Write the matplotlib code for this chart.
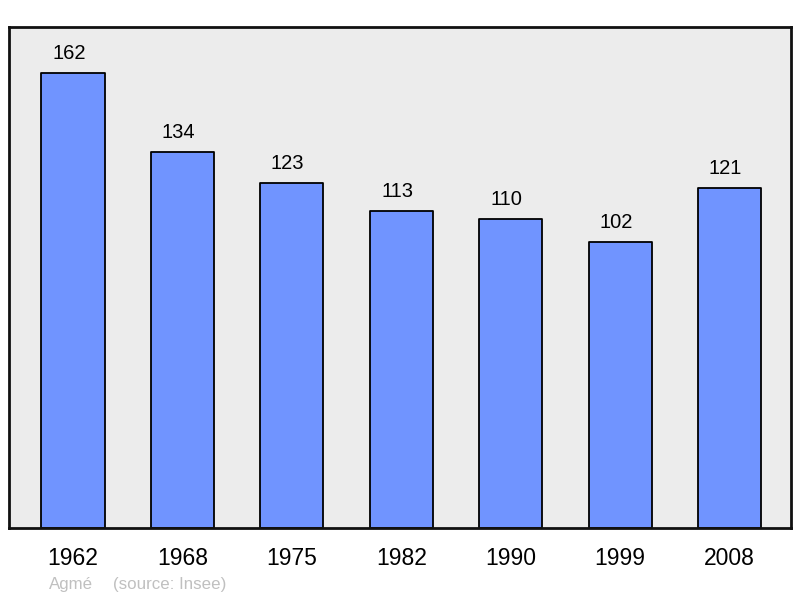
import matplotlib
matplotlib.use("Agg")
import matplotlib.pyplot as plt

years = ["1962", "1968", "1975", "1982", "1990", "1999", "2008"]
population = [162, 134, 123, 113, 110, 102, 121]

plt.rcParams['font.family'] = ['Liberation Sans', 'DejaVu Sans']

fig = plt.figure(figsize=(8, 5.98), dpi=100)
ax = fig.add_axes([9/800, 70/598, 782/800, 501/598])
ax.set_facecolor('#ececec')
x = list(range(len(years)))
ax.bar(x, population, width=0.576, color='#7094ff', edgecolor='black',
       linewidth=1.3, joinstyle='round', zorder=2)
for xi, v in zip(x, population):
    ax.annotate(str(v), (xi, v), xytext=(-3, 10), textcoords='offset points',
                ha='center', va='baseline', fontsize=14.5)
ax.set_xlim(-0.585, 6.562)
ax.set_ylim(0, 178.4)
ax.set_yticks([])
ax.set_xticks(x)
ax.set_xticklabels(years, fontsize=16.5)
ax.tick_params(axis='x', length=0, pad=14)
for s in ax.spines.values():
    s.set_linewidth(2)
    s.set_color('#111111')
    s.set_joinstyle('round')
fig.text(49/800, 1 - 585/598, "Agmé", color='#c0c0c0', fontsize=12.2, va='center')
fig.text(113/800, 1 - 585/598, "(source: Insee)", color='#c0c0c0', fontsize=12.2, va='center')
fig.savefig("out.png", dpi=100)
